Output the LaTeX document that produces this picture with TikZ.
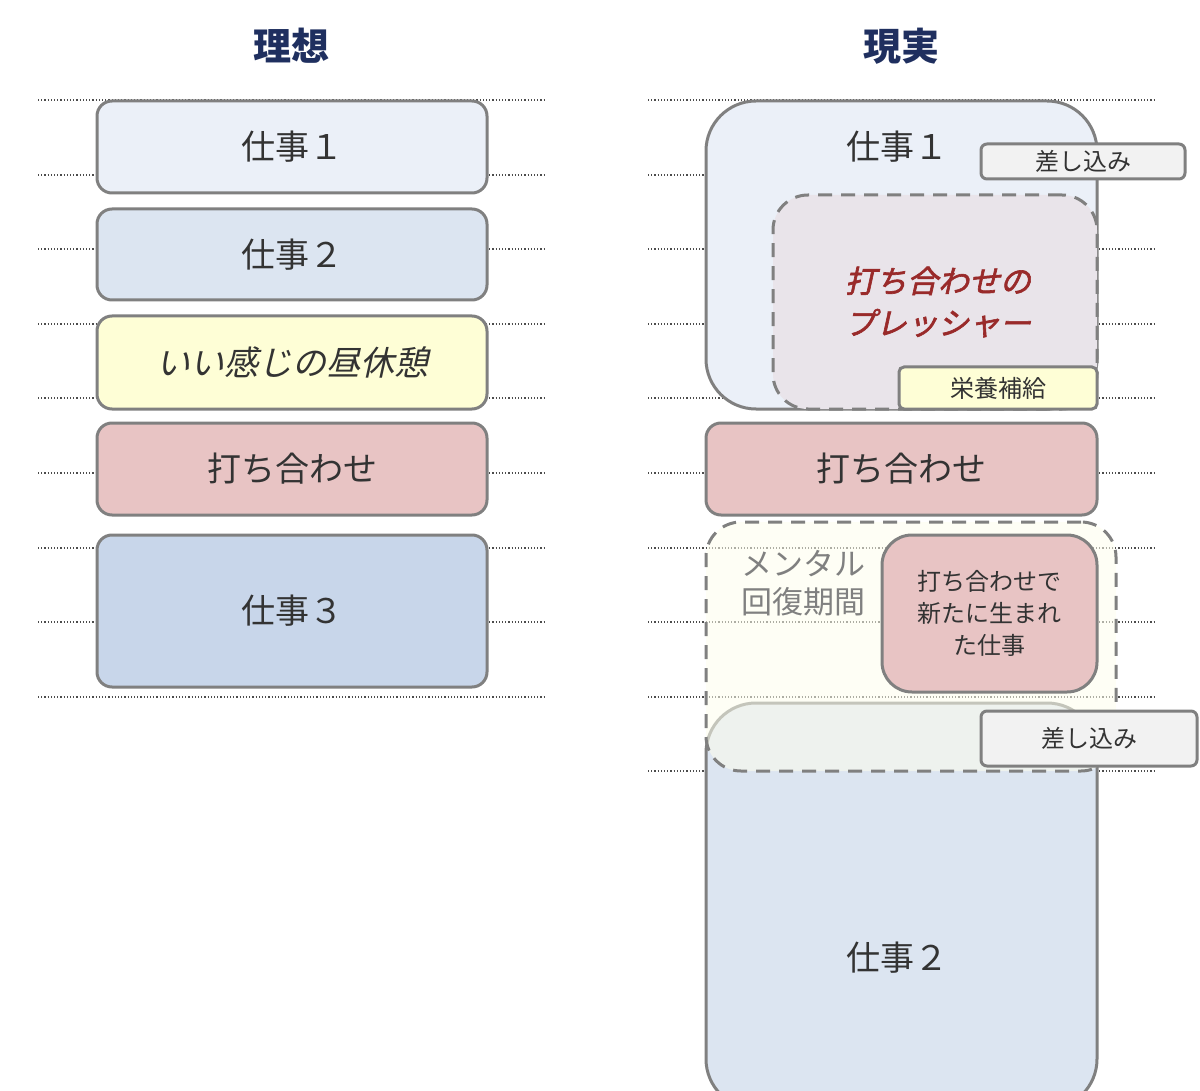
\documentclass[tikz,border=0pt]{standalone}
\usepackage{fontspec}
\setmainfont{Noto Sans CJK JP}
\newfontfamily\jpit{Noto Sans CJK JP}[FakeSlant=0.22]
\newfontfamily\jpbit{Noto Sans CJK JP}[FakeSlant=0.22,FakeBold=2]
\definecolor{edge}{HTML}{808080}
\definecolor{txt}{HTML}{333333}
\definecolor{cA}{HTML}{EBF0F8}
\definecolor{cB}{HTML}{DCE5F1}
\definecolor{cY}{HTML}{FEFED6}
\definecolor{cR}{HTML}{E8C4C4}
\definecolor{cC}{HTML}{C8D6EA}
\definecolor{cG}{HTML}{F2F2F2}
\definecolor{cP}{HTML}{E9E4EA}
\definecolor{cL}{HTML}{FDFEEC}
\definecolor{navy}{HTML}{1F2F5F}
\definecolor{dred}{HTML}{992A2A}
\tikzset{
 box/.style={draw=edge, line width=3pt, rounded corners=15pt, text=txt, font=\fontsize{34}{40}\selectfont, inner sep=0pt},
 tag/.style={draw=edge, line width=3pt, rounded corners=6pt, fill=cG, text=txt, font=\fontsize{24}{28}\selectfont, inner sep=0pt},
 dash box/.style={draw=edge, line width=3pt, dash pattern=on 14pt off 9pt},
 guide/.style={draw=black!70, line width=1.2pt, dotted},
 title/.style={text=navy, font=\fontsize{38}{44}\selectfont\bfseries}
}
\begin{document}
\begin{tikzpicture}[x=1pt,y=-1pt]
\useasboundingbox (0,0) rectangle (1200,1091);
\clip (0,0) rectangle (1200,1091);
\foreach \yy in {100,175,249,324,398,473,548,622,697}{
  \draw[guide] (38,\yy) -- (546,\yy);
  \draw[guide] (648,\yy) -- (1155,\yy);
}
\draw[guide] (648,771) -- (1155,771);
\node[title] (t1) at (291,46) {理想};
\node[title] (t2) at (901,46) {現実};
% left column
\node[box, fill=cA, minimum width=390pt, minimum height=92pt] (l1) at (292,147) {仕事１};
\node[box, fill=cB, minimum width=390pt, minimum height=91pt] (l2) at (292,254.5) {仕事２};
\node[box, fill=cY, minimum width=390pt, minimum height=93pt] (l3) at (292,362.5) {\jpit いい感じの昼休憩};
\node[box, fill=cR, minimum width=390pt, minimum height=92pt] (l4) at (292,469) {打ち合わせ};
\node[box, fill=cC, minimum width=390pt, minimum height=152pt] (l5) at (292,611) {仕事３};
% right column
\node[box, fill=cA, rounded corners=50pt, minimum width=391pt, minimum height=308pt] (r1) at (901.5,255) {};
\node[text=txt, font=\fontsize{34}{40}\selectfont] (r1t) at (897,147) {仕事１};
\node[tag, minimum width=204pt, minimum height=35pt] (s1) at (1083,161.5) {差し込み};
\node[dash box, fill=cP, rounded corners=35pt, minimum width=324pt, minimum height=214pt] (pr) at (935,302) {};
\node[text=dred, align=center, font=\fontsize{31}{42}\selectfont\jpbit] (prt) at (938,302) {打ち合わせの\\プレッシャー};
\node[tag, fill=cY, rounded corners=5pt, minimum width=198pt, minimum height=42pt] (ey) at (998,388) {栄養補給};
\node[box, fill=cR, minimum width=391pt, minimum height=92pt] (r2) at (901.5,469) {打ち合わせ};
\node[box, fill=cB, rounded corners=50pt, minimum width=391pt, minimum height=406pt] (r3) at (901.5,906) {};
\node[text=txt, font=\fontsize{34}{40}\selectfont] (r3t) at (897,958) {仕事２};
\node[dash box, fill=cL, fill opacity=0.55, rounded corners=35pt, minimum width=410pt, minimum height=249pt] (mr) at (911,646.5) {};
\node[text=edge, align=left, font=\fontsize{31}{38}\selectfont] (mrt) at (803,583) {メンタル\\回復期間};
\node[box, fill=cR, rounded corners=30pt, minimum width=215pt, minimum height=157pt, align=center, font=\fontsize{24}{32}\selectfont] (nw) at (989.5,613.5) {打ち合わせで\\新たに生まれ\\た仕事};
\node[tag, minimum width=216pt, minimum height=55pt] (s2) at (1089,738.5) {差し込み};
\end{tikzpicture}
\end{document}
